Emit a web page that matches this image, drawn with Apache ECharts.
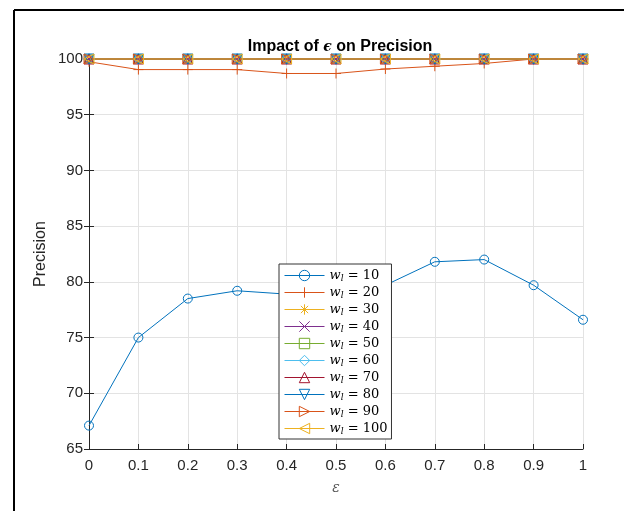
<!DOCTYPE html>
<html>
<head>
<meta charset="utf-8">
<script src="https://cdn.jsdelivr.net/npm/echarts@6/dist/echarts.min.js"></script>
<style>
  html, body { margin: 0; padding: 0; background: #fff; }
  #chart { width: 624px; height: 511px; }
</style>
</head>
<body>
<div id="chart"></div>
<script>
// x values (epsilon)
var epsVals = [0, 0.1, 0.2, 0.3, 0.4, 0.5, 0.6, 0.7, 0.8, 0.9, 1];
var wlVals = [10, 20, 30, 40, 50, 60, 70, 80, 90, 100];

// precision for each w_l
var prec10 = [67.1, 75.0, 78.5, 79.2, 78.9, 79.1, 79.7, 81.8, 82.0, 79.7, 76.6];
var prec20 = [99.75, 99.05, 99.05, 99.05, 98.7, 98.7, 99.1, 99.35, 99.6, 100, 100];
var prec30 = [100, 100, 100, 100, 100, 100, 100, 100, 100, 100, 100];
var prec40 = [100, 100, 100, 100, 100, 100, 100, 100, 100, 100, 100];
var prec50 = [100, 100, 100, 100, 100, 100, 100, 100, 100, 100, 100];
var prec60 = [100, 100, 100, 100, 100, 100, 100, 100, 100, 100, 100];
var prec70 = [100, 100, 100, 100, 100, 100, 100, 100, 100, 100, 100];
var prec80 = [100, 100, 100, 100, 100, 100, 100, 100, 100, 100, 100];
var prec90 = [100, 100, 100, 100, 100, 100, 100, 100, 100, 100, 100];
var prec100 = [100, 100, 100, 100, 100, 100, 100, 100, 100, 100, 100];
var allPrec = [prec10, prec20, prec30, prec40, prec50, prec60, prec70, prec80, prec90, prec100];

// matlab colour order + markers
var colors = ['#0072BD', '#D95319', '#EDB120', '#7E2F8E', '#77AC30', '#4DBEEE', '#A2142F', '#0072BD', '#D95319', '#EDB120'];
var markers = [
  { s: 'circle', size: 9, rot: 0 },
  { s: 'path://M5,0L5,10M0,5L10,5', size: 10, rot: 0 },
  { s: 'path://M5,0L5,10M0,5L10,5M1.5,1.5L8.5,8.5M8.5,1.5L1.5,8.5', size: 9, rot: 0 },
  { s: 'path://M0,0L10,10M10,0L0,10', size: 7, rot: 0 },
  { s: 'rect', size: 8, rot: 0 },
  { s: 'diamond', size: 11, rot: 0 },
  { s: 'triangle', size: 10, rot: 0 },
  { s: 'triangle', size: 10, rot: 180 },
  { s: 'triangle', size: 10, rot: -90 },
  { s: 'triangle', size: 10, rot: 90 }
];

var chart = echarts.init(document.getElementById('chart'));

var series = wlVals.map(function (w, i) {
  return {
    name: 'w_l = ' + w,
    type: 'line',
    clip: false,
    data: epsVals.map(function (x, j) { return [x, allPrec[i][j]]; }),
    symbol: markers[i].s,
    symbolSize: markers[i].size,
    symbolRotate: markers[i].rot,
    showAllSymbol: true,
    lineStyle: { color: colors[i], width: 1 },
    itemStyle: { color: 'rgba(0,0,0,0)', borderColor: colors[i], borderWidth: 1 },
    emphasis: { disabled: true }
  };
});

var axisCol = '#262626';

chart.setOption({
  animation: false,
  title: {
    text: '{b|Impact of }{e|ϵ}{b| on Precision}',
    left: 335,
    top: 34,
    textAlign: 'center',
    textStyle: {
      rich: {
        b: { fontFamily: 'Liberation Sans', fontWeight: 'bold', fontSize: 16, color: '#000' },
        e: { fontFamily: 'DejaVu Serif', fontStyle: 'italic', fontSize: 14, color: '#000' }
      }
    }
  },
  grid: { left: 89, right: 41, top: 59, bottom: 62 },
  legend: {
    left: 279,
    top: 264,
    orient: 'vertical',
    backgroundColor: '#fff',
    borderColor: '#333',
    borderWidth: 1,
    padding: [5, 4, 3, 5],
    itemWidth: 40,
    itemHeight: 13,
    itemGap: 3,
    lineStyle: { width: 1 },
    itemStyle: { borderWidth: 1 },
    formatter: function (name) {
      var v = name.split('= ')[1];
      return '{w|w}{l|l}{t| = ' + v + '}';
    },
    textStyle: {
      rich: {
        w: { fontFamily: 'DejaVu Serif', fontStyle: 'italic', fontSize: 13, color: '#000' },
        l: { fontFamily: 'DejaVu Serif', fontStyle: 'italic', fontSize: 9, color: '#000', verticalAlign: 'bottom', padding: [6, 0, 0, 0] },
        t: { fontFamily: 'DejaVu Serif', fontSize: 13, color: '#000' }
      }
    },
    data: series.map(function (s) { return s.name; })
  },
  xAxis: [{
    type: 'value',
    min: 0,
    max: 1,
    interval: 0.1,
    name: 'ε',
    nameLocation: 'middle',
    nameGap: 32,
    nameMoveOverlap: false,
    nameTextStyle: { fontFamily: 'DejaVu Serif', fontStyle: 'italic', fontSize: 14, color: '#555' },
    axisLine: { lineStyle: { color: axisCol, width: 1 } },
    axisTick: { inside: true, length: 5, lineStyle: { color: axisCol } },
    axisLabel: { color: axisCol, fontFamily: 'Liberation Sans', fontSize: 15, margin: 9 },
    splitLine: { show: true, lineStyle: { color: '#e3e3e3', width: 1 } }
  }, {
    type: 'value',
    position: 'top',
    min: 0,
    max: 1,
    interval: 0.1,
    axisLine: { lineStyle: { color: axisCol, width: 1 } },
    axisTick: { inside: true, length: 5, lineStyle: { color: axisCol } },
    axisLabel: { show: false },
    splitLine: { show: false }
  }],
  yAxis: [{
    type: 'value',
    min: 65,
    max: 100,
    interval: 5,
    name: 'Precision',
    nameLocation: 'middle',
    nameGap: 40,
    nameMoveOverlap: false,
    nameTextStyle: { fontFamily: 'Liberation Sans', fontSize: 16, color: axisCol },
    axisLine: { show: true, lineStyle: { color: axisCol, width: 1 } },
    axisTick: { show: true, inside: true, length: 5, lineStyle: { color: axisCol } },
    axisLabel: { color: axisCol, fontFamily: 'Liberation Sans', fontSize: 15, margin: 6 },
    splitLine: { show: true, lineStyle: { color: '#e3e3e3', width: 1 } }
  }, {
    type: 'value',
    position: 'right',
    min: 65,
    max: 100,
    interval: 5,
    axisLine: { show: true, lineStyle: { color: axisCol, width: 1 } },
    axisTick: { show: true, inside: true, length: 5, lineStyle: { color: axisCol } },
    axisLabel: { show: false },
    splitLine: { show: false }
  }],
  graphic: [
    { type: 'line', shape: { x1: 14, y1: 10, x2: 14, y2: 511 }, style: { stroke: '#000', lineWidth: 2 } },
    { type: 'line', shape: { x1: 14, y1: 10, x2: 624, y2: 10 }, style: { stroke: '#000', lineWidth: 2 } }
  ],
  series: series
});
</script>
</body>
</html>
